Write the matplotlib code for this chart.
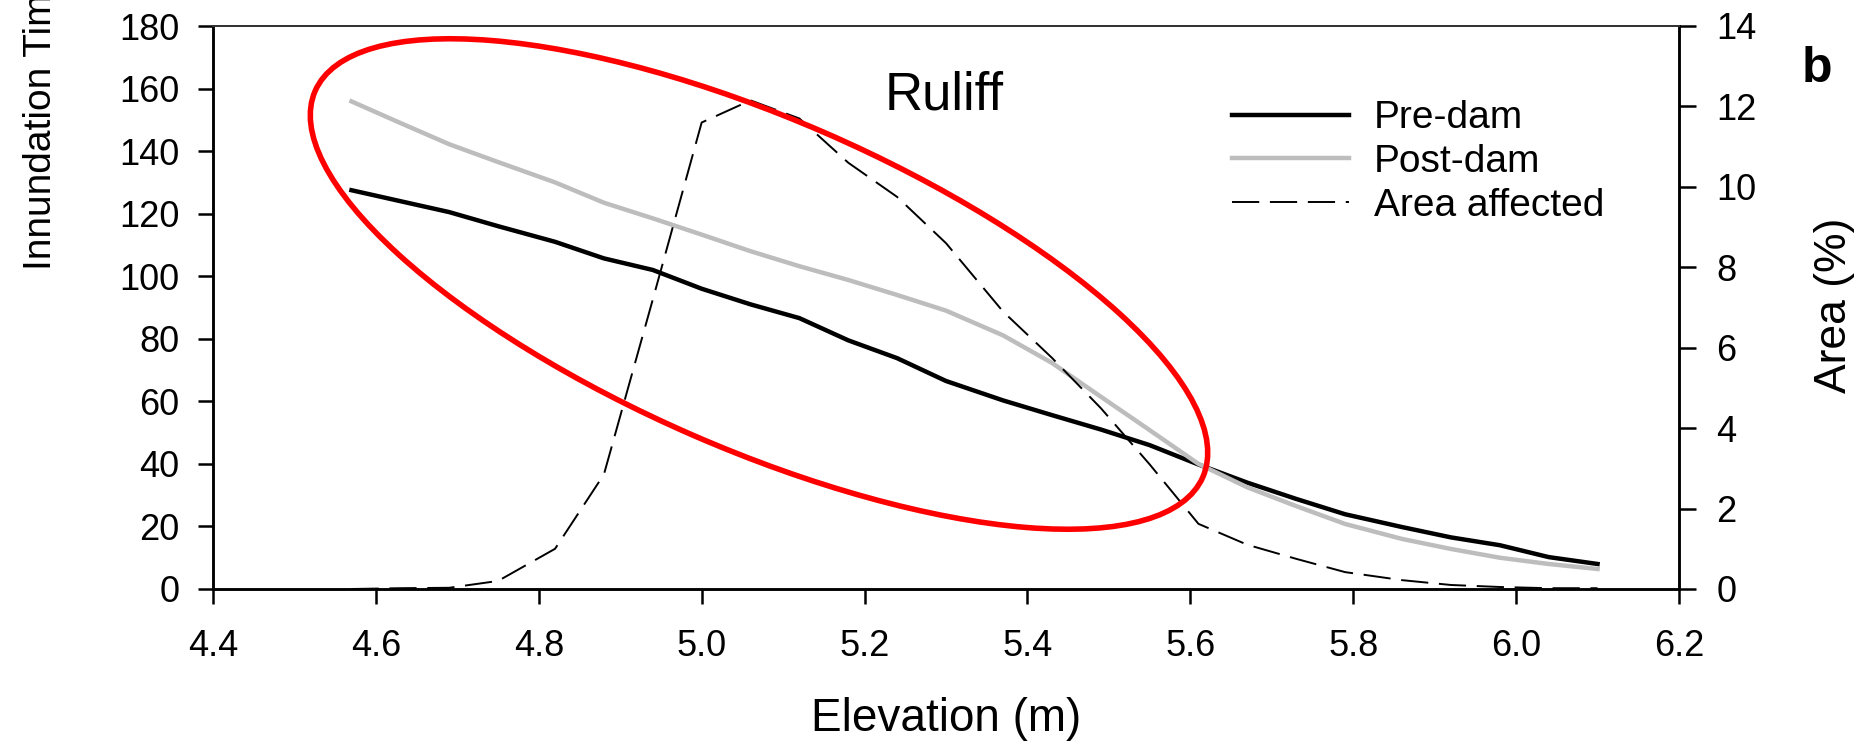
import numpy as np
import matplotlib
matplotlib.use('Agg')
from matplotlib import pyplot as plt
from matplotlib.patches import Ellipse

# Values
elevation = [4.57, 4.63, 4.69, 4.75, 4.82, 4.88, 4.94, 5.00, 5.06, 5.12, 5.18, 5.24, 5.30,
             5.37, 5.43, 5.49, 5.55, 5.61, 5.67, 5.73, 5.79, 5.86, 5.92, 5.98, 6.04, 6.10]
pre_dam = [127.5, 124.0, 120.5, 116.0, 111.0, 105.7, 102.0, 96.0, 91.0, 86.6, 79.5, 73.8, 66.5,
           60.3, 55.6, 51.0, 46.0, 39.8, 34.0, 28.8, 23.9, 19.8, 16.5, 14.0, 10.2, 8.0]
post_dam = [155.9, 149.0, 142.2, 136.5, 130.0, 123.5, 118.5, 113.3, 108.0, 103.2, 98.8, 94.0, 89.0,
            81.1, 72.3, 61.5, 50.8, 40.0, 32.5, 26.5, 20.8, 16.0, 12.8, 10.0, 8.0, 6.4]
area_affected = [0.0, 0.02, 0.03, 0.2, 1.0, 2.85, 7.2, 11.6, 12.15, 11.7, 10.6, 9.75, 8.6,
                 6.9, 5.75, 4.5, 3.1, 1.62, 1.1, 0.75, 0.42, 0.22, 0.1, 0.05, 0.02, 0.02]

x_ticks = [4.4, 4.6, 4.8, 5.0, 5.2, 5.4, 5.6, 5.8, 6.0, 6.2]
left_ticks = [0, 20, 40, 60, 80, 100, 120, 140, 160, 180]
right_ticks = [0, 2, 4, 6, 8, 10, 12, 14]

plt.rcParams['font.family'] = ['Liberation Sans', 'DejaVu Sans']

W, H = 1858, 746
fig = plt.figure(figsize=(W / 100, H / 100), dpi=100)
ax = fig.add_axes([213 / W, 1 - 589 / H, (1679 - 213) / W, (589 - 26) / H])
ax2 = ax.twinx()

l1, = ax.plot(elevation, pre_dam, color='black', lw=3.2, label='Pre-dam')
l2, = ax.plot(elevation, post_dam, color='#bdbdbd', lw=3.2, label='Post-dam')
l3, = ax2.plot(elevation, area_affected, color='black', lw=1.4, dashes=(14, 5.5),
               label='Area affected')

ax.set_xlim(4.4, 6.2)
ax.set_ylim(0, 180)
ax2.set_ylim(0, 14)

ax.set_xticks(x_ticks)
ax.set_xticklabels([f'{v:.1f}' for v in x_ticks])
ax.set_yticks(left_ticks)
ax2.set_yticks(right_ticks)

ax.tick_params(axis='both', direction='out', length=11, width=1.8, labelsize=26)
ax.tick_params(axis='y', pad=13)
ax.tick_params(axis='x', pad=18)
ax2.tick_params(axis='y', direction='out', length=12, width=1.8, labelsize=26, pad=15)

for a in (ax, ax2):
    for s in a.spines.values():
        s.set_linewidth(1.8)
    a.spines['top'].set_linewidth(1.4)
    a.spines['top'].set_color('#333333')

# axis labels
ax.set_xlabel('Elevation (m)', fontsize=33)
ax.xaxis.set_label_coords(0.5, -0.231)
ax.xaxis.label.set_va('center')

# the reference crops this label at the top edge
ax.set_ylabel('Innundation Time (days)', fontsize=28)
ax.yaxis.label.set_rotation_mode('anchor')
ax.yaxis.label.set_ha('left')
ax.yaxis.label.set_va('center')
ax.yaxis.set_label_coords(-0.117, 0.5666)

ax2.set_ylabel('Area (%)', fontsize=32, rotation=90)
ax2.yaxis.label.set_rotation_mode('anchor')
ax2.yaxis.label.set_ha('center')
ax2.yaxis.label.set_va('center')
ax2.yaxis.set_label_coords(1.106, 0.504)

ax.text(0.4987, 0.877, 'Ruliff', transform=ax.transAxes, fontsize=38,
        ha='center', va='center')
fig.text(1817 / W, 1 - 69 / H, 'b', fontsize=36, fontweight='bold', ha='center', va='center')

ax2.legend(handles=[l1, l2, l3], loc='upper left', bbox_to_anchor=(0.695, 0.868),
           frameon=False, fontsize=28, handlelength=3.0, handletextpad=0.65,
           labelspacing=0.2, borderpad=0, borderaxespad=0)

# red highlight ellipse (figure pixel space, y up)
ell = Ellipse((759 / 100, (H - 284) / 100), 9.68, 3.30, angle=-23.5,
              transform=fig.dpi_scale_trans, fill=False, edgecolor='#ff0000', lw=4,
              zorder=10)
fig.add_artist(ell)

fig.savefig('out.png', dpi=100)
